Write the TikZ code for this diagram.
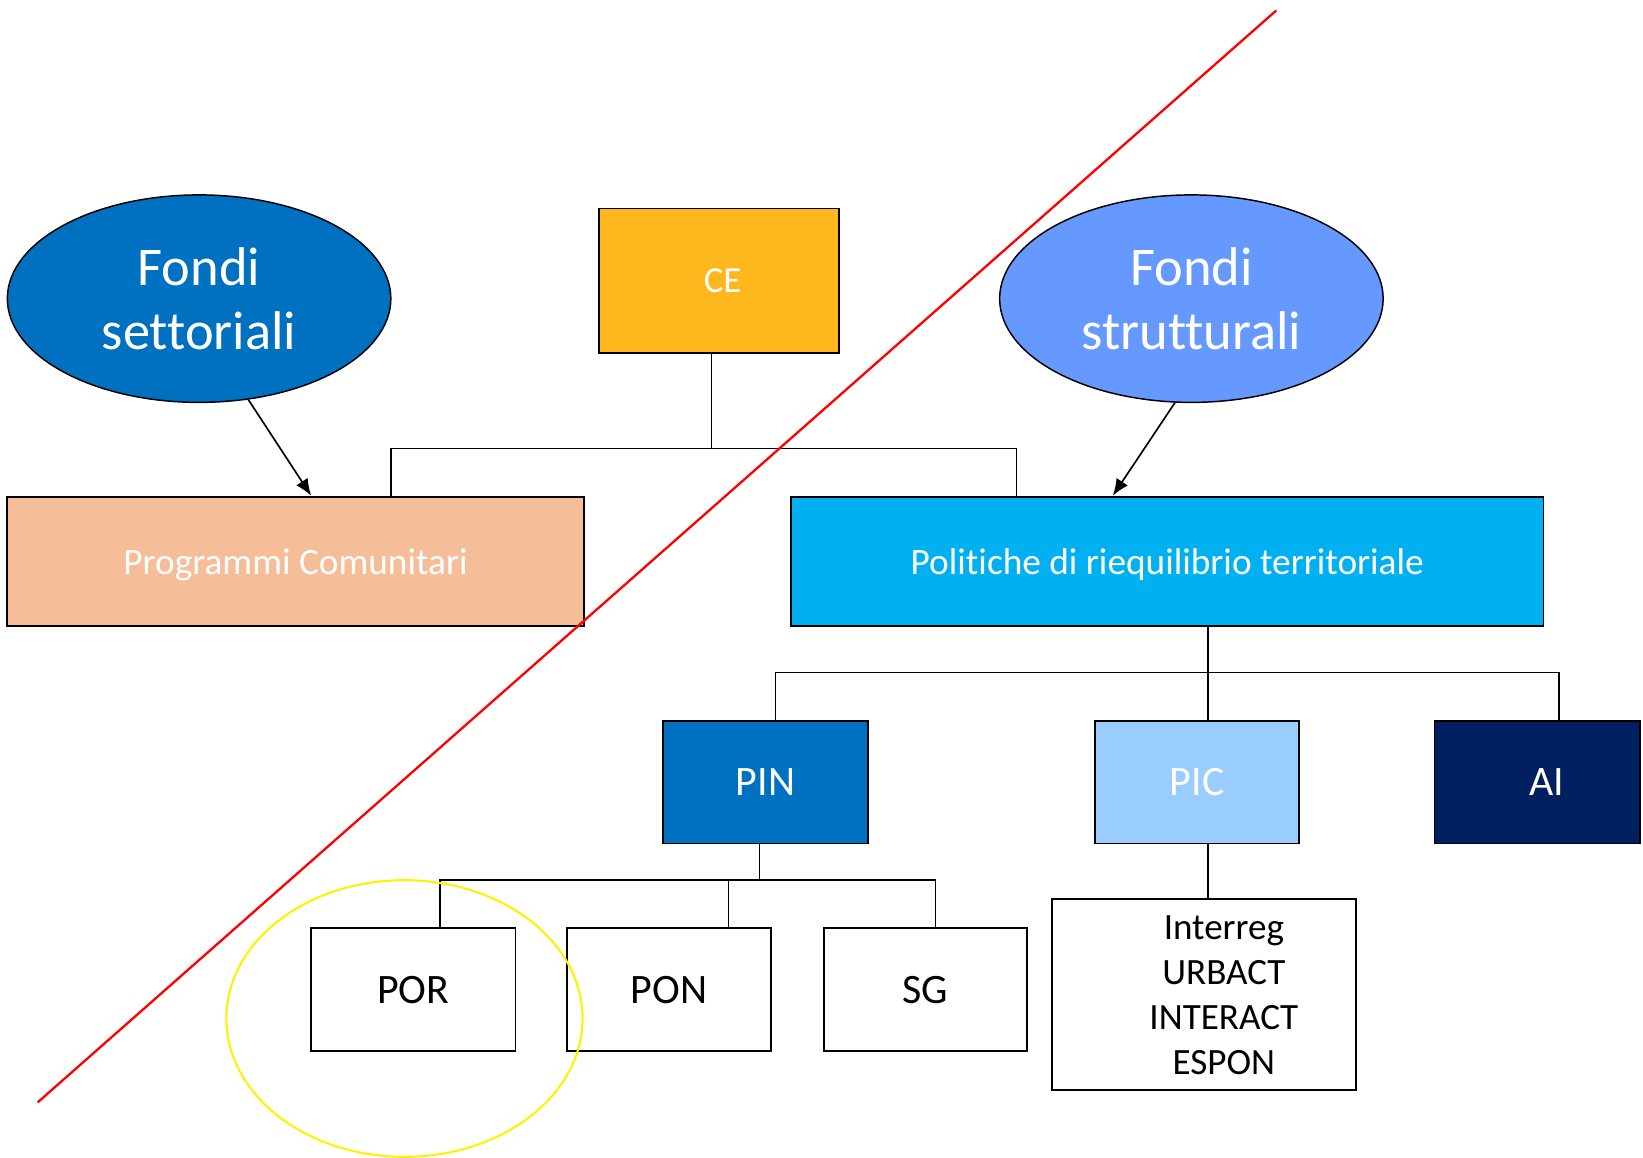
\documentclass[tikz,border=0pt]{standalone}
\usepackage{fontspec}
\setmainfont{Carlito}[Ligatures=NoCommon]
\usetikzlibrary{shapes.geometric,arrows.meta,calc}
\definecolor{cSett}{HTML}{0070C0}
\definecolor{cStrut}{HTML}{6699FF}
\definecolor{cCE}{HTML}{FFB71E}
\definecolor{cProg}{HTML}{F5BE99}
\definecolor{cPol}{HTML}{00B0F0}
\definecolor{cPIN}{HTML}{0070C0}
\definecolor{cPIC}{HTML}{99CCFF}
\definecolor{cAI}{HTML}{002060}
\begin{document}
\begin{tikzpicture}[x=0.5pt,y=-0.5pt,
  fondo/.style={ellipse,draw=black,line width=0.7pt,inner sep=0pt,
    minimum width=183pt,minimum height=99pt,text=white,align=center,
    font=\fontsize{26}{30.5}\selectfont},
  box/.style={rectangle,draw=black,line width=0.9pt,inner sep=0pt,align=center},
  conn/.style={draw=black,line width=0.7pt},
  arr/.style={draw=black,line width=0.8pt,-{Latex[length=8pt,width=6.5pt]}},
  mid/.style={minimum width=97.5pt,minimum height=58.5pt,font=\fontsize{20}{24}\selectfont},
  wide/.style={minimum height=61.5pt,text=white,text height=16pt,text depth=3pt,
    font=\fontsize{17.8}{21}\selectfont}
]
\useasboundingbox (0,0) rectangle (1568,1105);

% top level
\node[fondo,fill=cSett] (sett) at (190,285) {Fondi\\settoriali};
\node[fondo,fill=cStrut] (strut) at (1137,285) {Fondi\\strutturali};
\node[box,fill=cCE,text=white,minimum width=114.5pt,minimum height=69pt,
  font=\fontsize{17.5}{21}\selectfont] (ce) at (686.5,268) {\hspace*{3pt}CE};

\node[box,wide,fill=cProg,minimum width=275pt] (prog) at (282,535.5) {Programmi Comunitari};
\node[box,wide,fill=cPol,minimum width=359pt] (pol) at (1114,535.5) {Politiche di riequilibrio territoriale};

% second level
\node[box,mid,fill=cPIN,text=white] (pin) at (730.5,746.5) {PIN};
\node[box,mid,fill=cPIC,text=white] (pic) at (1142.5,746.5) {PIC};
\node[box,mid,fill=cAI,text=white,minimum width=98pt] (ai) at (1467,746.5) {\hspace*{9pt}AI};

% third level
\node[box,mid,fill=white,text=black] (por) at (394.5,944.5) {POR};
\node[box,mid,fill=white,text=black] (pon) at (638.5,944.5) {PON};
\node[box,mid,fill=white,text=black,minimum width=97pt] (sg) at (883,944.5) {SG};
\node[box,fill=white,minimum width=145pt,minimum height=91pt] (interbox) at (1149,949) {};
\node[align=center,inner sep=0pt,text=black,font=\fontsize{17.7}{21.5}\selectfont]
  (intertext) at (1168,950) {Interreg\\URBACT\\INTERACT\\ESPON};

% connectors
\coordinate (j1) at (679,428);
\draw[conn] (ce.south -| j1) -- (j1);
\draw[conn] (j1) -| ($(prog.north)+(91,0)$);
\draw[conn] (j1) -| ($(pol.north)+(-144,0)$);

\coordinate (j2) at (1153,642);
\draw[conn] (pol.south -| j2) -- (j2);
\draw[conn] (j2) -| ($(pin.north)+(9.5,0)$);
\draw[conn] (j2) -- (pic.north -| j2);
\draw[conn] (j2) -| ($(ai.north)+(21,0)$);

\coordinate (j3) at (725,840);
\draw[conn] (pin.south -| j3) -- (j3);
\draw[conn] (j3) -| ($(por.north)+(25.5,0)$);
\draw[conn] (j3) -| ($(pon.north)+(56.5,0)$);
\draw[conn] (j3) -| ($(sg.north)+(10,0)$);

\draw[conn] (pic.south -| j2) -- (interbox.north -| j2);

% arrows
\draw[arr] (sett.-64.8) -- ($(prog.north)+(15,0)$);
\draw[arr] (strut.-99) -- ($(pol.north)+(-52,0)$);

% overlays
\coordinate (r1) at (36,1052);
\coordinate (r2) at (1218,10);
\draw[red,line width=1.1pt] (r1) -- (r2);
\node[ellipse,draw=yellow,line width=1pt,inner sep=0pt,
  minimum width=170pt,minimum height=132pt] (hl) at (386,972) {};
\end{tikzpicture}
\end{document}
